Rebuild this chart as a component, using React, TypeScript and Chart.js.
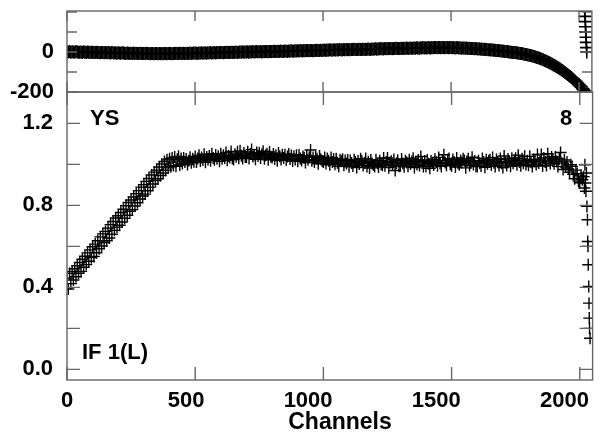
import { useEffect, useRef } from 'react';
import { Chart, registerables } from 'chart.js';

Chart.register(...registerables);

// ---------------- data ----------------
const baseChannels = [
  0, 5, 10, 15, 20, 25, 30, 35, 40, 45,
  50, 55, 60, 65, 70, 75, 80, 85, 90, 95,
  100, 105, 110, 115, 120, 125, 130, 135, 140, 145,
  150, 155, 160, 165, 170, 175, 180, 185, 190, 195,
  200, 205, 210, 215, 220, 225, 230, 235, 240, 245,
  250, 255, 260, 265, 270, 275, 280, 285, 290, 295,
  300, 305, 310, 315, 320, 325, 330, 335, 340, 345,
  350, 355, 360, 365, 370, 375, 380, 385, 390, 395,
  400, 405, 410, 415, 420, 425, 430, 435, 440, 445,
  450, 455, 460, 465, 470, 475, 480, 485, 490, 495,
  500, 505, 510, 515, 520, 525, 530, 535, 540, 545,
  550, 555, 560, 565, 570, 575, 580, 585, 590, 595,
  600, 605, 610, 615, 620, 625, 630, 635, 640, 645,
  650, 655, 660, 665, 670, 675, 680, 685, 690, 695,
  700, 705, 710, 715, 720, 725, 730, 735, 740, 745,
  750, 755, 760, 765, 770, 775, 780, 785, 790, 795,
  800, 805, 810, 815, 820, 825, 830, 835, 840, 845,
  850, 855, 860, 865, 870, 875, 880, 885, 890, 895,
  900, 905, 910, 915, 920, 925, 930, 935, 940, 945,
  950, 955, 960, 965, 970, 975, 980, 985, 990, 995,
  1000, 1005, 1010, 1015, 1020, 1025, 1030, 1035, 1040, 1045,
  1050, 1055, 1060, 1065, 1070, 1075, 1080, 1085, 1090, 1095,
  1100, 1105, 1110, 1115, 1120, 1125, 1130, 1135, 1140, 1145,
  1150, 1155, 1160, 1165, 1170, 1175, 1180, 1185, 1190, 1195,
  1200, 1205, 1210, 1215, 1220, 1225, 1230, 1235, 1240, 1245,
  1250, 1255, 1260, 1265, 1270, 1275, 1280, 1285, 1290, 1295,
  1300, 1305, 1310, 1315, 1320, 1325, 1330, 1335, 1340, 1345,
  1350, 1355, 1360, 1365, 1370, 1375, 1380, 1385, 1390, 1395,
  1400, 1405, 1410, 1415, 1420, 1425, 1430, 1435, 1440, 1445,
  1450, 1455, 1460, 1465, 1470, 1475, 1480, 1485, 1490, 1495,
  1500, 1505, 1510, 1515, 1520, 1525, 1530, 1535, 1540, 1545,
  1550, 1555, 1560, 1565, 1570, 1575, 1580, 1585, 1590, 1595,
  1600, 1605, 1610, 1615, 1620, 1625, 1630, 1635, 1640, 1645,
  1650, 1655, 1660, 1665, 1670, 1675, 1680, 1685, 1690, 1695,
  1700, 1705, 1710, 1715, 1720, 1725, 1730, 1735, 1740, 1745,
  1750, 1755, 1760, 1765, 1770, 1775, 1780, 1785, 1790, 1795,
  1800, 1805, 1810, 1815, 1820, 1825, 1830, 1835, 1840, 1845,
  1850, 1855, 1860, 1865, 1870, 1875, 1880, 1885, 1890, 1895,
  1900, 1905, 1910, 1915, 1920, 1925, 1930, 1935, 1940, 1945,
  1950, 1955, 1960, 1965, 1970, 1975, 1980, 1985, 1990, 1995,
  2000, 2005, 2010,
];

const ampTailChannels = [2015, 2018, 2020, 2022, 2024, 2026, 2028, 2030, 2031, 2032, 2033, 2035, 2036, 2037, 2038, 2040];
const ampChannels = [...baseChannels, ...ampTailChannels];

const ampValues = [
  0.445, 0.392, 0.468, 0.418, 0.477, 0.436, 0.491, 0.452, 0.505, 0.469,
  0.521, 0.478, 0.537, 0.498, 0.552, 0.511, 0.568, 0.527, 0.583, 0.545,
  0.598, 0.551, 0.611, 0.569, 0.627, 0.588, 0.646, 0.602, 0.661, 0.619,
  0.673, 0.627, 0.689, 0.641, 0.706, 0.659, 0.721, 0.678, 0.738, 0.694,
  0.749, 0.703, 0.765, 0.719, 0.781, 0.737, 0.798, 0.752, 0.814, 0.771,
  0.826, 0.779, 0.841, 0.797, 0.857, 0.813, 0.872, 0.831, 0.889, 0.846,
  0.901, 0.855, 0.917, 0.871, 0.931, 0.889, 0.948, 0.904, 0.962, 0.921,
  0.972, 0.93, 0.987, 0.946, 1.002, 0.958, 1.014, 0.971, 1.022, 0.983,
  1.027, 0.988, 1.031, 0.994, 1.036, 0.991, 1.025, 1.039, 0.997, 1.028,
  1.004, 1.031, 1.011, 1.026, 0.999, 1.018, 1.035, 1.008, 1.027, 1.013,
  1.038, 1.012, 1.029, 1.045, 1.016, 1.033, 1.021, 1.049, 1.01, 1.036,
  1.024, 1.041, 1.018, 1.052, 1.031, 1.022, 1.046, 1.027, 1.039, 1.015,
  1.052, 1.027, 1.044, 1.031, 1.058, 1.02, 1.041, 1.034, 1.063, 1.029,
  1.024, 1.049, 1.037, 1.061, 1.03, 1.066, 1.042, 1.028, 1.055, 1.036,
  1.036, 1.061, 1.029, 1.05, 1.072, 1.038, 1.047, 1.025, 1.058, 1.041,
  1.057, 1.031, 1.049, 1.064, 1.027, 1.045, 1.052, 1.022, 1.06, 1.037,
  1.033, 1.051, 1.026, 1.044, 1.018, 1.055, 1.039, 1.024, 1.047, 1.031,
  1.047, 1.021, 1.038, 1.05, 1.026, 1.043, 1.016, 1.039, 1.024, 1.045,
  1.015, 1.046, 1.028, 1.019, 1.038, 1.032, 1.009, 1.041, 1.023, 1.035,
  1.07, 1.018, 1.034, 1.011, 1.036, 1.027, 1.003, 1.041, 1.025, 1.016,
  1.012, 1.033, 1.004, 1.029, 1.017, 0.998, 1.034, 1.011, 1.026, 1.001,
  1.027, 1.008, 0.991, 1.022, 1.015, 1.025, 0.996, 1.019, 1.004, 1.021,
  0.988, 1.019, 1.007, 0.992, 1.023, 1.011, 0.985, 1.016, 1.002, 1.027,
  1.016, 0.994, 1.008, 1.028, 0.989, 1.013, 0.982, 1.021, 1.004, 0.997,
  0.99, 1.022, 1.006, 0.987, 1.018, 1.001, 0.996, 1.031, 0.993, 1.011,
  1.031, 0.984, 1.009, 1.015, 0.997, 1.024, 0.97, 1.006, 1.02, 0.991,
  0.993, 1.026, 1.004, 0.988, 1.017, 1.009, 0.991, 1.022, 1.002, 1.014,
  1.03, 0.985, 1.012, 0.999, 1.021, 0.995, 1.038, 1.007, 0.989, 1.016,
  0.989, 1.021, 1.003, 0.981, 1.016, 1.008, 0.997, 1.025, 1.011, 0.993,
  1.034, 1.004, 0.99, 1.018, 1.047, 1.009, 0.996, 1.022, 1.028, 1.001,
  0.993, 1.024, 1.012, 0.987, 1.031, 1.006, 0.998, 1.019, 1.009, 1.027,
  1.019, 0.983, 1.014, 1.027, 0.994, 1.008, 1.035, 0.999, 1.016, 0.991,
  0.989, 1.018, 1.005, 0.992, 1.029, 1.011, 0.986, 1.022, 1.003, 1.017,
  1.022, 0.997, 1.033, 1.008, 0.99, 1.024, 1.013, 0.995, 1.028, 1.006,
  0.985, 1.041, 1.009, 0.995, 1.026, 1.014, 0.991, 1.03, 1.005, 1.019,
  1.03, 0.998, 1.045, 1.012, 0.993, 1.027, 1.006, 1.039, 0.999, 1.018,
  0.996, 1.039, 1.01, 0.989, 1.024, 1.015, 0.999, 1.048, 1.007, 1.021,
  1.048, 0.992, 1.031, 1.012, 0.995, 1.052, 1.017, 1.004, 1.036, 1.023,
  1.003, 1.036, 1.014, 0.99, 1.027, 1.058, 1.006, 0.975, 1.021, 0.987,
  1.012, 0.978, 0.962, 0.998, 0.99, 0.951, 0.93, 0.972, 0.955, 0.918,
  0.91, 0.944, 0.925,
  0.94, 0.885, 0.998, 0.909, 0.869, 0.958, 0.795, 0.73, 0.624, 0.6, 0.51, 0.404, 0.323, 0.25, 0.2, 0.152,
];

const phaseTailChannels = [2014, 2016, 2018, 2020, 2021, 2022, 2023, 2024, 2025, 2026, 2027, 2028, 2029, 2030];
const phaseChannels = [...baseChannels, ...phaseTailChannels];

const phaseValues = [
  1, 0, 2, -1, 1, 0, -1, 2, 0, -1,
  -1, 0, -2, 1, -1, -2, 0, -1, -2, -1,
  -1, -3, -2, -1, -3, -2, -4, -2, -3, -4,
  -3, -4, -2, -4, -5, -3, -4, -5, -4, -6,
  -4, -5, -6, -4, -5, -6, -7, -5, -6, -7,
  -6, -7, -5, -7, -6, -8, -7, -6, -8, -7,
  -7, -8, -6, -8, -7, -9, -8, -7, -9, -8,
  -8, -9, -7, -9, -8, -9, -7, -8, -9, -7,
  -7, -8, -9, -7, -8, -6, -8, -7, -6, -8,
  -7, -6, -8, -7, -6, -7, -5, -7, -6, -5,
  -6, -5, -7, -5, -6, -4, -6, -5, -4, -6,
  -4, -5, -3, -5, -4, -3, -5, -3, -4, -2,
  -3, -2, -4, -2, -3, -1, -3, -2, -1, -2,
  -1, -2, 0, -2, -1, 0, -1, 1, -1, 0,
  0, 1, -1, 1, 0, 2, 0, 1, 2, 1,
  1, 2, 0, 2, 1, 3, 2, 1, 3, 2,
  3, 2, 4, 3, 2, 4, 3, 5, 3, 4,
  4, 5, 3, 5, 4, 6, 5, 4, 6, 5,
  6, 5, 7, 6, 5, 7, 6, 8, 7, 6,
  7, 8, 6, 8, 7, 9, 8, 7, 9, 8,
  9, 10, 8, 10, 9, 11, 10, 9, 11, 10,
  10, 11, 10, 12, 11, 10, 12, 11, 13, 11,
  12, 11, 13, 12, 14, 12, 13, 12, 14, 13,
  13, 14, 12, 14, 13, 15, 14, 13, 15, 14,
  15, 16, 14, 16, 15, 17, 16, 15, 17, 16,
  17, 16, 18, 17, 16, 18, 17, 19, 18, 17,
  18, 19, 17, 19, 18, 20, 19, 18, 20, 19,
  19, 20, 19, 21, 20, 19, 21, 20, 22, 20,
  21, 20, 22, 21, 20, 22, 21, 23, 22, 21,
  22, 23, 21, 23, 22, 21, 23, 22, 21, 22,
  22, 21, 22, 20, 21, 22, 20, 21, 19, 20,
  20, 19, 20, 18, 19, 18, 17, 18, 16, 17,
  16, 15, 16, 14, 15, 13, 14, 12, 13, 11,
  11, 10, 11, 9, 9, 8, 7, 7, 6, 5,
  5, 4, 3, 2, 2, 0, 0, -1, -2, -2,
  -3, -4, -5, -6, -7, -8, -9, -11, -12, -13,
  -15, -16, -18, -19, -21, -23, -25, -27, -29, -31,
  -34, -36, -39, -42, -45, -48, -51, -54, -58, -61,
  -65, -68, -72, -76, -80, -84, -89, -93, -98, -102,
  -107, -112, -117, -122, -128, -134, -140, -146, -152, -157,
  -163, -169, -175,
  -183, -186, -190, -194, -197, 204, 178, 152, 126, 100, 74, 48, 22, 0,
];

const xTickValues = [0, 500, 1000, 1500, 2000];
const xTickLabels = ['0', '500   ', '1000     ', '1500     ', '2000     '];
const phaseTickValues = [-200, -100, 0, 100, 200];
const phaseTickLabels = ['-200', '', '0', '', ''];
const ampTickValues = [0, 0.2, 0.4, 0.6, 0.8, 1.0, 1.2];
const ampTickLabels = ['0.0', '', '0.4', '', '0.8', '', '1.2'];

const xTitle = 'Channels';
const panelNotes = [
  { text: 'YS', x: 90, y: 125 },
  { text: '8', x: 560, y: 125 },
  { text: 'IF 1(L)', x: 82, y: 359 },
];

// ---------------- style ----------------
const W = 600;
const H = 436;
const FAMILY = '"Liberation Sans", Arial, Helvetica, sans-serif';
const FONT = { family: FAMILY, size: 22, weight: 'bold' as const };
const FRAME = '#666666';

function framePlugin(id: string, yTicks: number[], tickLen: number, extra?: (chart: any) => void) {
  return {
    id,
    afterDatasetsDraw(chart: any) {
      const { ctx, chartArea: a, scales } = chart;
      ctx.save();
      ctx.strokeStyle = FRAME;
      ctx.lineWidth = 1.4;
      ctx.strokeRect(a.left, a.top, a.right - a.left, a.bottom - a.top);
      ctx.beginPath();
      for (const v of yTicks) {
        const py = scales.y.getPixelForValue(v);
        if (py < a.top - 0.5 || py > a.bottom + 0.5) continue;
        ctx.moveTo(a.left, py);
        ctx.lineTo(a.left + tickLen, py);
        ctx.moveTo(a.right, py);
        ctx.lineTo(a.right - tickLen, py);
      }
      for (const v of xTickValues) {
        const px = scales.x.getPixelForValue(v);
        ctx.moveTo(px, a.bottom);
        ctx.lineTo(px, a.bottom - tickLen);
        ctx.moveTo(px, a.top);
        ctx.lineTo(px, a.top + tickLen);
      }
      ctx.stroke();
      ctx.restore();
      if (extra) extra(chart);
    },
  };
}

function drawNotes(chart: any) {
  const { ctx } = chart;
  ctx.save();
  ctx.fillStyle = '#000';
  ctx.font = `bold 22px ${FAMILY}`;
  ctx.textBaseline = 'alphabetic';
  ctx.textAlign = 'left';
  for (const n of panelNotes) ctx.fillText(n.text, n.x, n.y);
  ctx.textAlign = 'center';
  ctx.font = `bold 23px ${FAMILY}`;
  ctx.fillText(xTitle, 340, 429);
  ctx.restore();
}

export default function App() {
  const topRef = useRef<HTMLCanvasElement>(null);
  const botRef = useRef<HTMLCanvasElement>(null);

  useEffect(() => {
    const phasePoints = phaseChannels.map((c, i) => ({ x: c, y: phaseValues[i] }));
    const ampPoints = ampChannels.map((c, i) => ({ x: c, y: ampValues[i] }));

    const yFit = (s: any) => {
      s.width = 67;
      s.paddingTop = 0;
      s.paddingBottom = 0;
    };

    const top = new Chart(topRef.current as HTMLCanvasElement, {
      type: 'scatter',
      data: {
        datasets: [
          {
            data: phasePoints,
            pointStyle: 'cross',
            pointRadius: 6.5,
            pointBorderWidth: 1.6,
            pointBorderColor: '#000',
            pointBackgroundColor: '#000',
            clip: 0,
          } as any,
        ],
      },
      options: {
        responsive: false,
        animation: false,
        events: [],
        layout: { padding: { left: 0, right: 1, top: 11, bottom: H - 92 } },
        plugins: { legend: { display: false }, tooltip: { enabled: false } },
        scales: {
          x: { type: 'linear', display: false, min: 0, max: 2050 },
          y: {
            type: 'linear',
            min: -200,
            max: 205,
            grid: { display: false, drawTicks: false },
            border: { display: false },
            afterBuildTicks: (s: any) => {
              s.ticks = phaseTickValues.map((v) => ({ value: v }));
            },
            afterFit: yFit,
            ticks: {
              callback: (_v: any, i: number) => phaseTickLabels[i],
              color: '#000',
              font: FONT,
              padding: 13,
              autoSkip: false,
            },
          } as any,
        },
      },
      plugins: [framePlugin('frameTop', phaseTickValues, 10)],
    });

    const bot = new Chart(botRef.current as HTMLCanvasElement, {
      type: 'scatter',
      data: {
        datasets: [
          {
            data: ampPoints,
            pointStyle: 'cross',
            pointRadius: 6,
            pointBorderWidth: 1.4,
            pointBorderColor: '#000',
            pointBackgroundColor: '#000',
          } as any,
        ],
      },
      options: {
        responsive: false,
        animation: false,
        events: [],
        layout: { padding: { left: 0, right: 1, top: 92, bottom: 0 } },
        plugins: { legend: { display: false }, tooltip: { enabled: false } },
        scales: {
          x: {
            type: 'linear',
            min: 0,
            max: 2050,
            grid: { display: false, drawTicks: false },
            border: { display: false },
            afterBuildTicks: (s: any) => {
              s.ticks = xTickValues.map((v) => ({ value: v }));
            },
            afterFit: (s: any) => {
              s.height = 56;
              s.paddingLeft = 0;
              s.paddingRight = 0;
            },
            ticks: {
              callback: (_v: any, i: number) => xTickLabels[i],
              color: '#000',
              font: FONT,
              padding: 8,
              autoSkip: false,
              maxRotation: 0,
              minRotation: 0,
            },
          } as any,
          y: {
            type: 'linear',
            min: -0.052,
            max: 1.353,
            grid: { display: false, drawTicks: false },
            border: { display: false },
            afterBuildTicks: (s: any) => {
              s.ticks = ampTickValues.map((v) => ({ value: v }));
            },
            afterFit: yFit,
            ticks: {
              callback: (_v: any, i: number) => ampTickLabels[i],
              color: '#000',
              font: FONT,
              padding: 14,
              autoSkip: false,
            },
          } as any,
        },
      },
      plugins: [framePlugin('frameBot', ampTickValues, 13, drawNotes)],
    });

    return () => {
      top.destroy();
      bot.destroy();
    };
  }, []);

  return (
    <div style={{ position: 'absolute', left: 0, top: 0, width: W, height: H, background: '#fff' }}>
      <canvas
        ref={botRef}
        width={W}
        height={H}
        style={{ position: 'absolute', left: 0, top: 0, width: W, height: H }}
      />
      <canvas
        ref={topRef}
        width={W}
        height={H}
        style={{ position: 'absolute', left: 0, top: 0, width: W, height: H }}
      />
    </div>
  );
}
